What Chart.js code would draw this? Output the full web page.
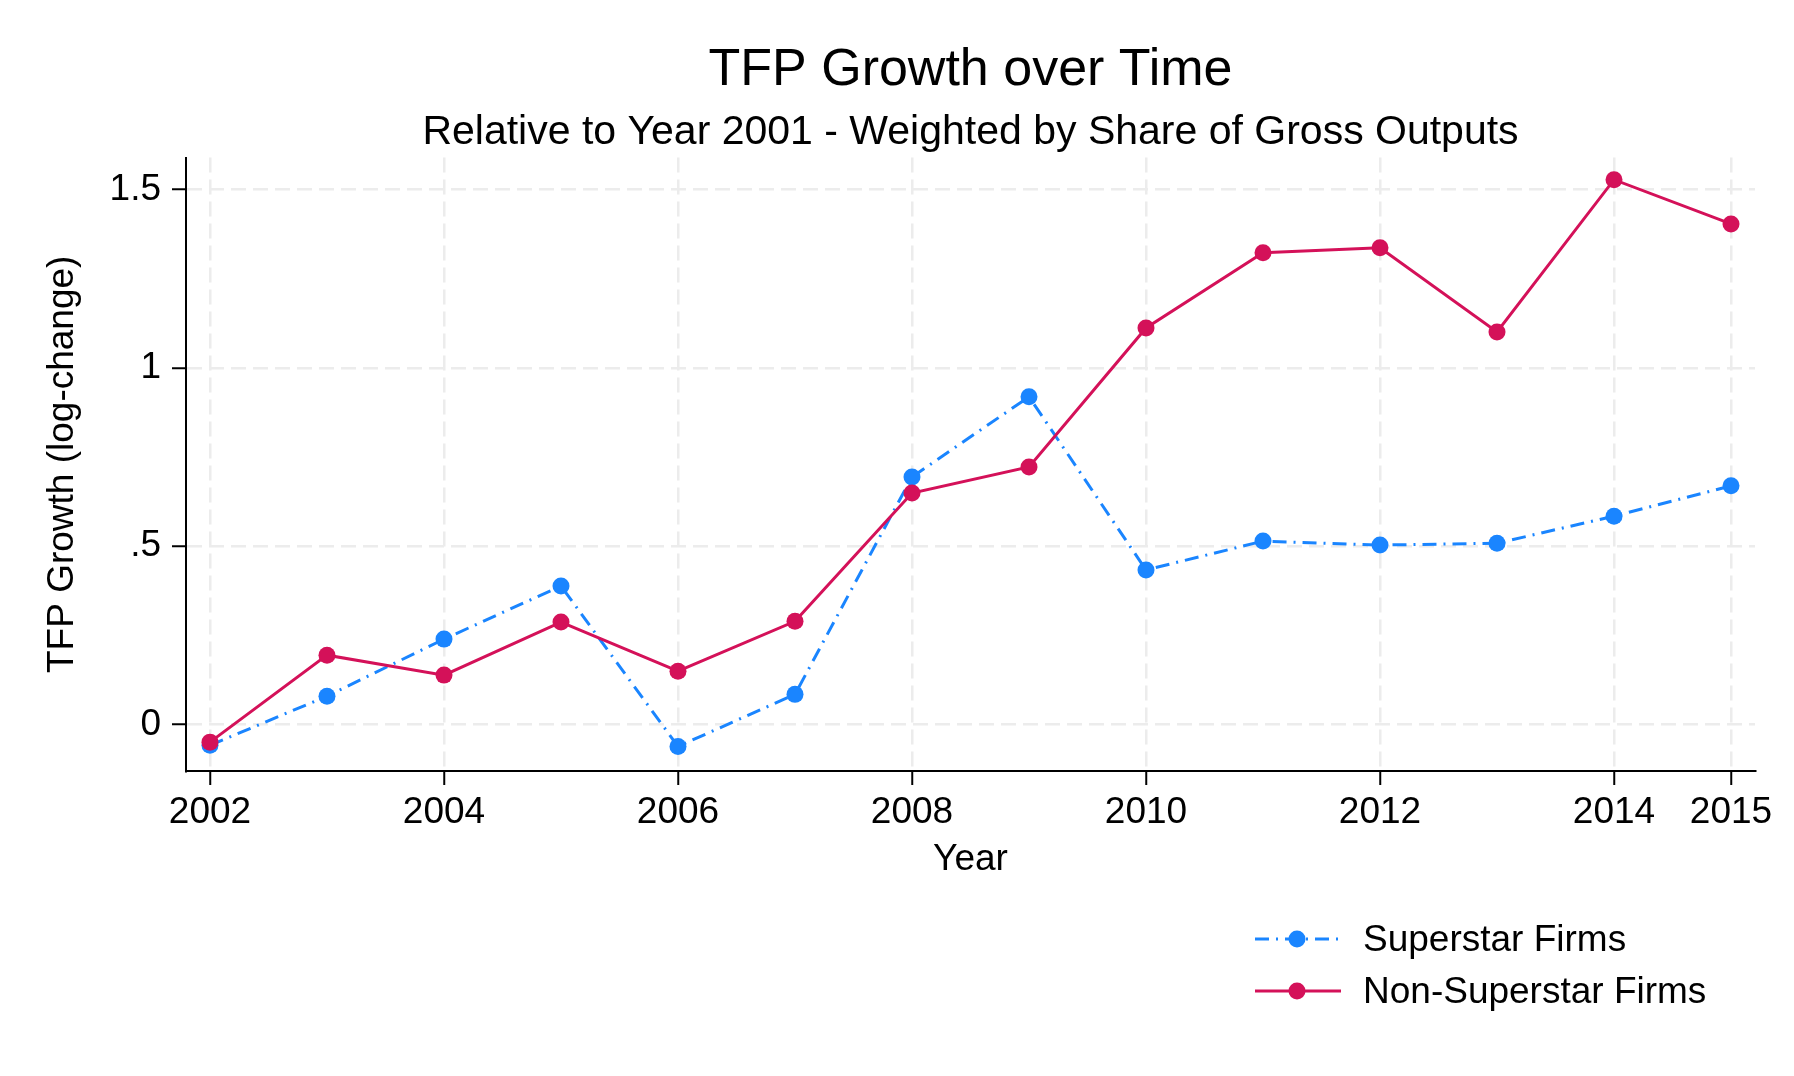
<!DOCTYPE html>
<html>
<head>
<meta charset="utf-8">
<script src="https://cdn.jsdelivr.net/npm/chart.js@4.4.1/dist/chart.umd.min.js"></script>
<style>
  body { margin: 0; background: #fff; }
  #wrap { position: relative; width: 1794px; height: 1076px; }
  #legend { position: absolute; left: 1255px; top: 913px; font-family: "Liberation Sans", Arial, sans-serif; font-size: 37px; color: #000; }
  .row { display: flex; align-items: center; height: 52px; }
  .row svg { width: 86px; height: 52px; margin-right: 22px; }
</style>
</head>
<body>
<div id="wrap">
  <canvas id="tfpChart" width="1794" height="1076"></canvas>
  <div id="legend"></div>
</div>
<script>
// === DATA ===
const years = [2002, 2003, 2004, 2005, 2006, 2007, 2008, 2009, 2010, 2011, 2012, 2013, 2014, 2015];
const superstar = [-0.059, 0.079, 0.239, 0.388, -0.062, 0.084, 0.694, 0.919, 0.433, 0.514, 0.503, 0.508, 0.584, 0.669];
const nonSuperstar = [-0.05, 0.194, 0.138, 0.287, 0.149, 0.289, 0.649, 0.722, 1.112, 1.323, 1.337, 1.101, 1.528, 1.404];
const xTicks = [2002, 2004, 2006, 2008, 2010, 2012, 2014, 2015];
const yTicks = [0, 0.5, 1, 1.5];

const blue = '#1a85ff';
const red = '#d41159';
const blueDash = [14, 7, 2, 7];
const font = 'Liberation Sans, Arial, sans-serif';

const toPoints = vals => years.map((y, i) => ({ x: y, y: vals[i] }));

// center title + subtitle over the plot area, not the whole canvas
const centerTitles = {
  id: 'centerTitles',
  afterLayout(chart) {
    const { left, right } = chart.chartArea;
    chart.boxes.forEach(b => {
      if (b.options && typeof b.options.text === 'string' && b.position === 'top') {
        b.left = left;
        b.right = right;
        b.width = right - left;
      }
    });
  }
};

const gridOpts = { color: '#ececec', lineWidth: 2.5, tickColor: '#000', tickWidth: 2, tickLength: 14 };
const borderOpts = { color: '#000', width: 2, dash: [15, 7] };

// === CHART ===
const ctx = document.getElementById('tfpChart').getContext('2d');
const chart = new Chart(ctx, {
  type: 'line',
  data: {
    datasets: [{
      label: 'Superstar Firms',
      data: toPoints(superstar),
      borderColor: blue,
      backgroundColor: blue,
      borderWidth: 3,
      borderDash: blueDash,
      pointRadius: 8.5,
      pointBorderWidth: 0,
      pointBackgroundColor: blue,
      order: 2
    }, {
      label: 'Non-Superstar Firms',
      data: toPoints(nonSuperstar),
      borderColor: red,
      backgroundColor: red,
      borderWidth: 3,
      pointRadius: 8.5,
      pointBorderWidth: 0,
      pointBackgroundColor: red,
      order: 1
    }]
  },
  options: {
    responsive: false,
    animation: false,
    devicePixelRatio: 1,
    layout: { padding: { left: 0, right: 39, top: 0, bottom: 194 } },
    plugins: {
      legend: { display: false },
      tooltip: { enabled: false },
      title: {
        display: true,
        text: 'TFP Growth over Time',
        color: '#000',
        font: { family: font, size: 52, weight: 'normal' },
        padding: { top: 39, bottom: 7 }
      },
      subtitle: {
        display: true,
        text: 'Relative to Year 2001 - Weighted by Share of Gross Outputs',
        color: '#000',
        font: { family: font, size: 41, weight: 'normal' },
        padding: { top: 0, bottom: 0 }
      }
    },
    scales: {
      x: {
        type: 'linear',
        min: 2001.795,
        max: 2015.205,
        afterBuildTicks: s => { s.ticks = xTicks.map(v => ({ value: v })); },
        afterFit: s => { s.height = 111; },
        ticks: {
          color: '#000',
          font: { family: font, size: 37 },
          padding: 6,
          maxRotation: 0,
          autoSkip: false,
          callback: v => String(v)
        },
        grid: gridOpts,
        border: borderOpts,
        title: {
          display: true,
          text: 'Year',
          color: '#000',
          font: { family: font, size: 37 },
          padding: { top: 0, bottom: 0 }
        }
      },
      y: {
        min: -0.131,
        max: 1.59,
        afterBuildTicks: s => { s.ticks = yTicks.map(v => ({ value: v })); },
        afterFit: s => { s.width = 186; },
        ticks: {
          color: '#000',
          font: { family: font, size: 37 },
          padding: 11,
          callback: v => String(v).replace(/^0\./, '.')
        },
        grid: gridOpts,
        border: borderOpts,
        title: {
          display: true,
          text: 'TFP Growth (log-change)',
          color: '#000',
          font: { family: font, size: 37 },
          padding: { top: 41, bottom: 0 }
        }
      }
    }
  },
  plugins: [centerTitles]
});

// === HTML LEGEND ===
const legend = document.getElementById('legend');
chart.data.datasets.forEach(ds => {
  const row = document.createElement('div');
  row.className = 'row';
  const dash = ds.borderDash ? ds.borderDash.join(' ') : 'none';
  row.innerHTML =
    '<svg viewBox="0 0 86 52">' +
    '<line x1="0" y1="26" x2="86" y2="26" stroke="' + ds.borderColor + '" stroke-width="3" stroke-dasharray="' + dash + '"/>' +
    '<circle cx="42" cy="26" r="8.5" fill="' + ds.borderColor + '"/></svg>' +
    '<span>' + ds.label + '</span>';
  legend.appendChild(row);
});
</script>
</body>
</html>
